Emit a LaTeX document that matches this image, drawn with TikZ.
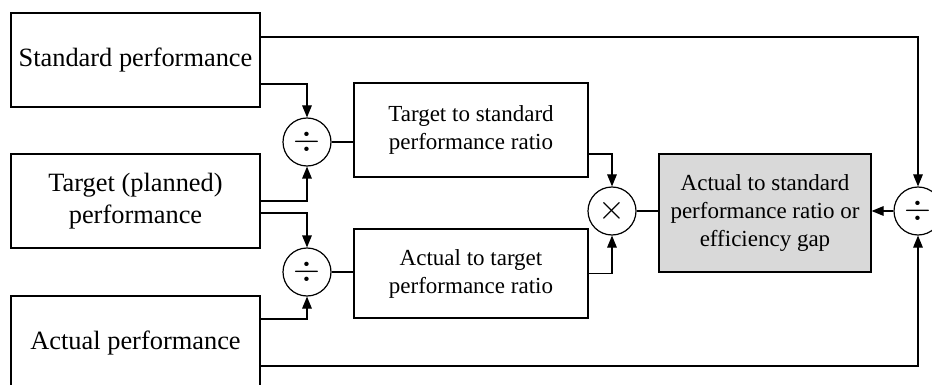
\documentclass[tikz,border=0pt]{standalone}
\usepackage{fontspec}
\setmainfont{Liberation Serif}
\usetikzlibrary{calc,arrows.meta}
\definecolor{gapgray}{HTML}{D9D9D9}

\begin{document}
\begin{tikzpicture}[x=0.5pt, y=-0.5pt, line width=0.6pt,
    inbox/.style={draw, rectangle, align=center, inner sep=0pt, minimum width=124.5pt, minimum height=47pt, font=\fontsize{13.2}{15.8}\selectfont},
    ratiobox/.style={draw, rectangle, align=center, inner sep=0pt, minimum width=117pt, font=\fontsize{11.5}{14}\selectfont},
    opnode/.style={draw, circle, inner sep=0pt, minimum size=24pt, font=\fontsize{19}{19}\selectfont},
    tip/.style={-{Triangle[length=6pt, width=4.8pt]}}]
                    \clip (0,0) rectangle (932,385);
                    % Input boxes
                    \node[inbox] (std) at (135.5,60) {Standard performance};
                    \node[inbox] (tgt) at (135.5,201) {Target (planned)\\performance};
                    \node[inbox] (act) at (135.5,343) {Actual performance};
                    % Division nodes
                    \node[opnode] (div1) at (307,142) {$\div$};
                    \node[opnode] (div2) at (307,272) {$\div$};
                    % Ratio boxes
                    \node[ratiobox, minimum height=47pt] (ratioTS) at (471,130) {Target to standard\\performance ratio};
                    \node[ratiobox, minimum height=44.5pt] (ratioAT) at (471,273.5) {Actual to target\\performance ratio};
                    % Product node and result
                    \node[opnode] (mul) at (612,211) {$\times$};
                    \node[ratiobox, fill=gapgray, minimum width=106pt, minimum height=59pt] (gap) at (765,213) {Actual to standard\\performance ratio or\\efficiency gap};
                    \node[opnode] (div3) at (918,211) {$\div$};
                    % Connectors into the first division
                    \draw[tip] ($(std.east)+(0,24)$) -| (div1.north);
                    \draw[tip] (tgt.east) -| (div1.south);
                    % Connectors into the second division
                    \draw[tip] ($(tgt.east)+(0,12)$) -| (div2.north);
                    \draw[tip] ($(act.east)+(0,-24)$) -| (div2.south);
                    % Ratios
                    \draw (div1.east) -- (div1.east -| ratioTS.west);
                    \draw (div2.east) -- (div2.east -| ratioAT.west);
                    \draw[tip] ($(ratioTS.east)+(0,24)$) -| (mul.north);
                    \draw[tip] (ratioAT.east) -| (mul.south);
                    \draw (mul.east) -- (mul.east -| gap.west);
                    % Direct path: actual over standard
                    \draw[tip] ($(std.east)+(0,-23)$) -| (div3.north);
                    \draw[tip] ($(act.east)+(0,23)$) -| (div3.south);
                    \draw[tip] (div3.west) -- (div3.west -| gap.east);
                \end{tikzpicture}
\end{document}
